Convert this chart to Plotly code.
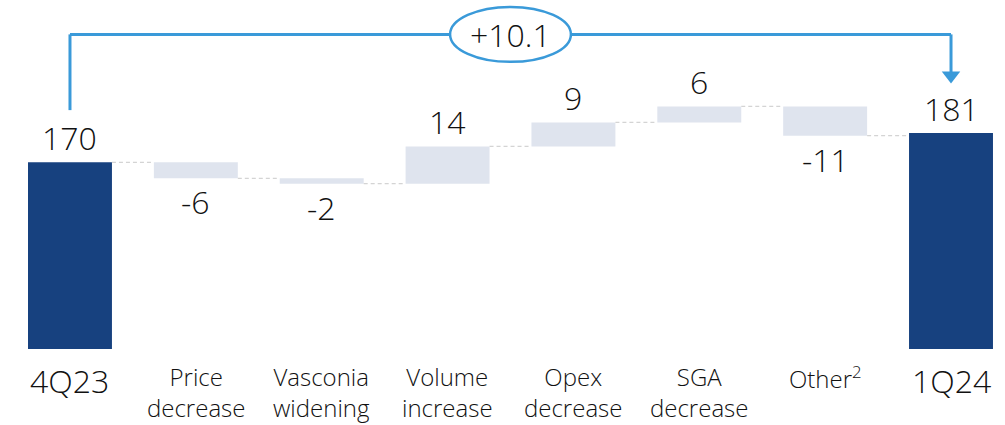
import plotly.graph_objects as go

# Waterfall: 4Q23 -> 1Q24
categories = ["4Q23", "Price<br>decrease", "Vasconia<br>widening", "Volume<br>increase",
              "Opex<br>decrease", "SGA<br>decrease", "Other<sup>2</sup>", "1Q24"]
start_value = 170
deltas = [-6, -2, 14, 9, 6, -11]
end_value = 181
total_change = "+10.1"
axis_floor = 100

DARK = "#17417f"
LIGHT = "#dfe4ee"
BLUE = "#3a9ad9"
TEXT = "#111111"
FONT = "Open Sans"
WEIGHT = 300
BAR_W = 0.667
H = 425  # figure height in px, used to place the category labels

xs = list(range(len(categories)))

# running levels for the floating bars
levels = [start_value]
for d in deltas:
    levels.append(levels[-1] + d)
bases = levels[:-1]

fig = go.Figure()

# totals
fig.add_trace(go.Bar(
    x=[xs[0], xs[-1]],
    y=[start_value - axis_floor, end_value - axis_floor],
    base=[axis_floor, axis_floor],
    width=BAR_W, marker=dict(color=DARK, line=dict(width=0)),
    hoverinfo="skip", showlegend=False,
))
# deltas
fig.add_trace(go.Bar(
    x=xs[1:-1], y=deltas, base=bases,
    width=BAR_W, marker=dict(color=LIGHT, line=dict(width=0)),
    hoverinfo="skip", showlegend=False,
))

# dashed connectors between consecutive bars
cx, cy = [], []
for i in range(len(xs) - 1):
    lvl = levels[i]
    cx += [xs[i] + BAR_W / 2, xs[i + 1] - BAR_W / 2, None]
    cy += [lvl, lvl, None]
fig.add_trace(go.Scatter(
    x=cx, y=cy, mode="lines",
    line=dict(color="#d4d4d4", width=1.2, dash="4px,3px"),
    hoverinfo="skip", showlegend=False,
))

annotations = []

# value labels
tops = [start_value] + [max(b, b + d) for b, d in zip(bases, deltas)] + [end_value]
bottoms = [None] + [min(b, b + d) for b, d in zip(bases, deltas)] + [None]
values = [start_value] + deltas + [end_value]
label_font = dict(family=FONT, size=32, color=TEXT, weight=WEIGHT)
for i, v in enumerate(values):
    label = str(v)
    if v < 0:
        annotations.append(dict(x=xs[i], y=bottoms[i], text=label, showarrow=False,
                                yanchor="top", yshift=0, font=label_font))
    else:
        annotations.append(dict(x=xs[i], y=tops[i], text=label, showarrow=False,
                                yanchor="bottom", yshift=1, font=label_font))

# category labels
for i, c in enumerate(categories):
    is_total = i in (0, len(categories) - 1)
    if is_total:
        yc, size = 380, 32
    elif "<br>" in c:
        yc, size = 392, 24
    else:
        yc, size = 377, 24
    annotations.append(dict(
        x=xs[i], y=1 - yc / H, yref="paper", text=c, showarrow=False,
        yanchor="middle",
        font=dict(family=FONT, size=size, color=TEXT, weight=WEIGHT)))

# bracket with the total change
bracket_y = 218
left_y0 = 189.6
arrow_mid = 202.6
shapes = [
    dict(type="line", x0=xs[0], x1=xs[0], y0=left_y0, y1=bracket_y,
         line=dict(color=BLUE, width=3)),
    dict(type="line", x0=xs[0], x1=3.02, y0=bracket_y, y1=bracket_y,
         line=dict(color=BLUE, width=3)),
    dict(type="line", x0=3.98, x1=xs[-1], y0=bracket_y, y1=bracket_y,
         line=dict(color=BLUE, width=3)),
    dict(type="line", x0=xs[-1], x1=xs[-1], y0=arrow_mid + 1, y1=bracket_y,
         line=dict(color=BLUE, width=3)),
    dict(type="circle", x0=3.02, x1=3.98, y0=bracket_y - 10.3, y1=bracket_y + 10.3,
         line=dict(color=BLUE, width=2.5), fillcolor="white"),
]
fig.add_trace(go.Scatter(
    x=[xs[-1]], y=[arrow_mid], mode="markers",
    marker=dict(symbol="triangle-down", size=16, color=BLUE, line=dict(width=0)),
    hoverinfo="skip", showlegend=False,
))
annotations.append(dict(
    x=3.5, y=bracket_y, text=total_change, showarrow=False,
    font=dict(family=FONT, size=32, color=TEXT, weight=WEIGHT),
))

fig.update_layout(
    width=1005, height=H,
    margin=dict(l=0, r=0, t=0, b=0),
    paper_bgcolor="white", plot_bgcolor="white",
    barmode="overlay",
    xaxis=dict(range=[-0.556, 7.429], visible=False, fixedrange=True),
    yaxis=dict(range=[71.5, 230.9], visible=False, fixedrange=True),
    shapes=shapes, annotations=annotations,
)

fig.write_html("out.html")
